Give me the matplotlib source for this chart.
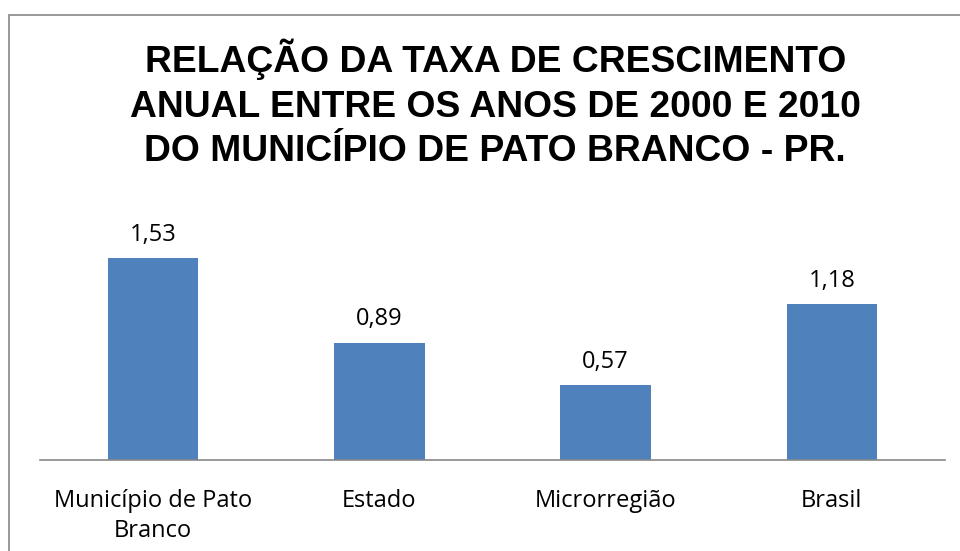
import matplotlib.pyplot as plt
from matplotlib.patches import Rectangle

# Dados do grafico
categorias = ["Município de Pato\nBranco", "Estado", "Microrregião", "Brasil"]
taxas = [1.53, 0.89, 0.57, 1.18]
rotulos = ["1,53", "0,89", "0,57", "1,18"]

titulo = ("RELAÇÃO DA TAXA DE CRESCIMENTO\n"
          "ANUAL ENTRE OS ANOS DE 2000 E 2010\n"
          "DO MUNICÍPIO DE PATO BRANCO - PR.")

fig = plt.figure(figsize=(9.6, 5.51), dpi=100)

# moldura cinza do grafico
fig.patches.append(Rectangle((9 / 960, -0.1), 1.2, 1.1 - 15 / 551,
                             transform=fig.transFigure, fill=False,
                             edgecolor="#888888", linewidth=1.2))

ax = fig.add_axes([40 / 960, 1 - 460 / 551, 905 / 960, 237.6 / 551])
x = range(len(categorias))
ax.bar(x, taxas, width=0.4, color="#4F81BD")

for i, v in enumerate(taxas):
    ax.text(i, v + 0.085, rotulos[i], ha="center", va="bottom",
            fontsize=17, family="Open Sans", color="#000000")

ax.set_xlim(-0.5, 3.5)
ax.set_ylim(0, 1.8)
ax.set_xticks(list(x))
ax.set_xticklabels(categorias, fontsize=17, family="Open Sans",
                   linespacing=1.3, va="top")
ax.tick_params(axis="x", length=0, pad=21)
ax.set_yticks([])
for s in ["top", "right", "left"]:
    ax.spines[s].set_visible(False)
ax.spines["bottom"].set_color("#888888")
ax.spines["bottom"].set_linewidth(1.2)

fig.text(0.516, 1 - 104 / 551, titulo, ha="center", va="center",
         fontsize=26.8, fontweight="bold", family="Liberation Sans",
         linespacing=1.36)

fig.savefig("out.png", dpi=100)
